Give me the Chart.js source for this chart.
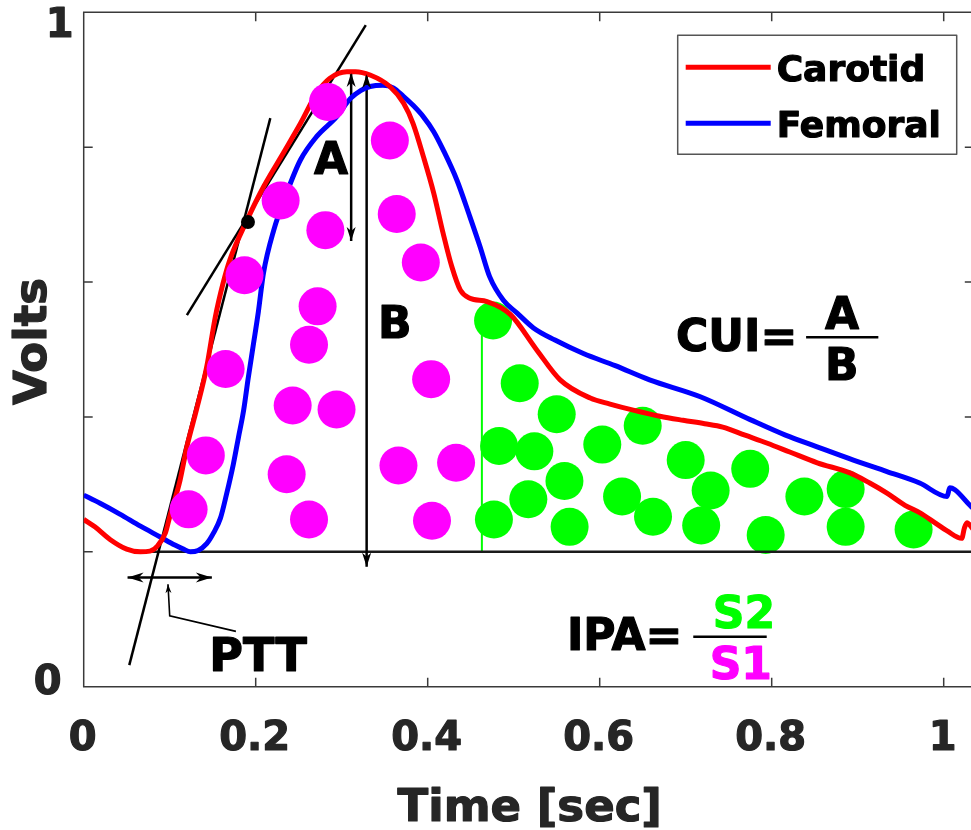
<!DOCTYPE html>
<html lang="en">
<head>
<meta charset="UTF-8">
<title>Carotid and femoral pulse waves</title>
<script src="https://cdn.jsdelivr.net/npm/chart.js"></script>
<style>
  body { margin: 0; overflow: hidden; background: #fff; }
</style>
</head>
<body>
<canvas id="pulseChart" width="980" height="830"></canvas>
<script>
// pulse waveforms (time in sec, amplitude in volts)
const carotidTime = [0, .013, .031, .050, .066, .077, .086, .095, .100, .112, .120, .131, .143, .153, .162, .170, .190, .209, .232, .252,
  .271, .286, .306, .316, .333, .356, .372, .383, .395, .407, .418, .428, .438, .449, .469, .496, .527, .554, .589, .612,
  .639, .670, .697, .722, .743, .769, .795, .821, .853, .891, .914, .934, .955, .972, .990, 1.004, 1.021, 1.024, 1.027, 1.032, 1.035];
const carotidVolts = [.248, .237, .218, .204, .200, .201, .209, .228, .252, .306, .356, .410, .474, .548, .598, .633, .692, .741, .791, .835,
  .880, .902, .912, .912, .907, .890, .865, .835, .786, .732, .672, .623, .588, .576, .571, .552, .499, .455, .428, .419,
  .410, .401, .395, .390, .385, .373, .361, .348, .332, .317, .302, .287, .269, .258, .243, .231, .220, .235, .243, .237, .232];

const femoralTime = [0, .019, .042, .066, .089, .106, .116, .124, .133, .143, .151, .159, .166, .174, .180, .186, .191, .197, .203, .209,
  .221, .236, .252, .271, .294, .310, .322, .333, .348, .360, .372, .383, .395, .407, .418, .434, .449, .461, .472, .488,
  .504, .523, .548, .581, .618, .658, .717, .775, .816, .852, .895, .934, .972, 1.004, 1.007, 1.013, 1.032, 1.035];
const femoralVolts = [.284, .272, .256, .238, .222, .210, .204, .200, .202, .212, .228, .250, .285, .330, .370, .410, .455, .505, .555, .613,
  .677, .732, .781, .816, .845, .872, .884, .890, .892, .888, .875, .862, .845, .823, .796, .751, .697, .652, .608, .573,
  .554, .532, .514, .494, .476, .455, .430, .396, .373, .356, .336, .319, .302, .282, .295, .292, .267, .264];

// area samples: S1 (systolic, magenta) and S2 (diastolic, green)
const s1Time = [.284, .356, .229, .364, .281, .392, .187, .272, .262, .165, .404, .243, .294, .142, .236, .366, .433, .122, .262, .405];
const s1Volts = [.867, .810, .721, .701, .677, .629, .610, .564, .507, .471, .456, .417, .411, .343, .315, .328, .332, .263, .248, .246];
const s2Time = [.476, .507, .550, .483, .524, .603, .650, .700, .559, .517, .626, .729, .775, .838, .886, .477, .565, .662, .718, .793, .886, .965];
const s2Volts = [.543, .450, .404, .357, .349, .359, .387, .336, .305, .278, .282, .291, .323, .282, .293, .248, .237, .252, .239, .225, .237, .233];

// construction lines
const footTangentTime = [.053, .217];
const footTangentVolts = [.032, .843];
const kneeTangentTime = [.120, .328];
const kneeTangentVolts = [.551, .981];
const inflectionTime = [.191];
const inflectionVolts = [.689];
const arrowATime = [.311, .311];
const arrowAVolts = [.910, .661];
const arrowBTime = [.329, .329];
const arrowBVolts = [.908, .178];
const baselineTime = [.066, 1.04];
const baselineVolts = [.2, .2];
const splitTime = [.463, .463];
const splitVolts = [.2, .543];
const pttTime = [.051, .149];
const pttVolts = [.162, .162];
const pttLeaderTime = [.098, .100, .177];
const pttLeaderVolts = [.152, .105, .082];

const xTicks = [0, 0.2, 0.4, 0.6, 0.8, 1];
const xTickLabels = ['0', '0.2', '0.4', '0.6', '0.8', '1'];
const yTicks = [0, 0.2, 0.4, 0.6, 0.8, 1];

const pts = (xs, ys) => xs.map((x, i) => ({ x: x, y: ys[i] }));
const FONT = '"DejaVu Sans", "Liberation Sans", sans-serif';

function line(xs, ys, color, width, extra) {
  return Object.assign({
    data: pts(xs, ys), showLine: true, borderColor: color, borderWidth: width,
    pointRadius: 0, fill: false, order: 1
  }, extra || {});
}

// text placed in data coordinates
const notes = [
  { text: 'A', x: .2876, y: .7847, size: 44, color: '#000' },
  { text: 'B', x: .3616, y: .5408, size: 44, color: '#000' },
  { text: 'PTT', x: .2027, y: .0485, size: 46, color: '#000' },
  { text: 'CUI=', x: .7593, y: .5215, size: 44, color: '#000' },
  { text: 'A', x: .8817, y: .5541, size: 44, color: '#000' },
  { text: 'B', x: .8814, y: .4785, size: 44, color: '#000' },
  { text: 'IPA=', x: .6291, y: .0781, size: 44, color: '#000' },
  { text: 'S2', x: .7678, y: .1112, size: 44, color: '#00ff00' },
  { text: 'S1', x: .7641, y: .0351, size: 44, color: '#ff00ff' }
];
const fractionBars = [
  { x0: .840, x1: .924, y: .5181 },
  { x0: .7088, x1: .7942, y: .0741 }
];

// bold text with a thin outline in the same colour, for a heavier look
function heavyText(ctx, text, x, y, color) {
  ctx.fillStyle = color;
  ctx.strokeStyle = color;
  ctx.lineWidth = 1.2;
  ctx.lineJoin = 'round';
  ctx.fillText(text, x, y);
  ctx.strokeText(text, x, y);
}

function arrowHead(ctx, tip, from, len, half) {
  const ang = Math.atan2(tip.y - from.y, tip.x - from.x);
  ctx.beginPath();
  ctx.moveTo(tip.x, tip.y);
  ctx.lineTo(tip.x - len * Math.cos(ang) + half * Math.sin(ang), tip.y - len * Math.sin(ang) - half * Math.cos(ang));
  ctx.lineTo(tip.x - len * 0.7 * Math.cos(ang), tip.y - len * 0.7 * Math.sin(ang));
  ctx.lineTo(tip.x - len * Math.cos(ang) - half * Math.sin(ang), tip.y - len * Math.sin(ang) + half * Math.cos(ang));
  ctx.closePath();
  ctx.fill();
}

const frame = {
  id: 'frame',
  beforeDatasetsDraw(chart) {
    const { ctx, chartArea: a, scales: { x, y } } = chart;
    ctx.save();
    ctx.strokeStyle = '#3a3a3a';
    ctx.lineWidth = 1.5;
    ctx.beginPath();
    ctx.moveTo(a.right, a.top);
    ctx.lineTo(a.left, a.top);
    ctx.lineTo(a.left, a.bottom);
    ctx.lineTo(a.right, a.bottom);
    xTicks.forEach(v => {
      const px = x.getPixelForValue(v);
      ctx.moveTo(px, a.bottom); ctx.lineTo(px, a.bottom - 9);
      ctx.moveTo(px, a.top); ctx.lineTo(px, a.top + 9);
    });
    yTicks.forEach(v => {
      const py = y.getPixelForValue(v);
      ctx.moveTo(a.left, py); ctx.lineTo(a.left + 9, py);
      ctx.moveTo(a.right, py); ctx.lineTo(a.right - 9, py);
    });
    ctx.stroke();

    const ink = '#262626';
    ctx.font = 'bold 40px ' + FONT;
    ctx.textAlign = 'center';
    ctx.textBaseline = 'alphabetic';
    xTicks.forEach((v, i) => heavyText(ctx, xTickLabels[i], x.getPixelForValue(v) - 1, a.bottom + 63, ink));
    heavyText(ctx, '1', a.left - 24, y.getPixelForValue(1) + 25, ink);
    heavyText(ctx, '0', a.left - 36, y.getPixelForValue(0) + 7, ink);

    ctx.font = 'bold 45px ' + FONT;
    heavyText(ctx, 'Time [sec]', (a.left + a.right) / 2 + 1, a.bottom + 134, ink);
    ctx.save();
    ctx.translate(a.left - 38, (a.top + a.bottom) / 2 - 8);
    ctx.rotate(-Math.PI / 2);
    heavyText(ctx, 'Volts', 0, 0, ink);
    ctx.restore();
    ctx.restore();
  },
  afterDatasetsDraw(chart) {
    const { ctx, chartArea: a, scales: { x, y } } = chart;
    ctx.save();
    ctx.fillStyle = '#000';
    chart.data.datasets.forEach((ds, i) => {
      if (!ds.arrowEnds) return;
      const p = chart.getDatasetMeta(i).data;
      const size = ds.arrowEnds.size;
      if (ds.arrowEnds.start) arrowHead(ctx, p[0], p[1], size[0], size[1]);
      if (ds.arrowEnds.end) arrowHead(ctx, p[p.length - 1], p[p.length - 2], size[0], size[1]);
    });

    ctx.textAlign = 'center';
    ctx.textBaseline = 'alphabetic';
    notes.forEach(n => {
      ctx.font = 'bold ' + n.size + 'px ' + FONT;
      heavyText(ctx, n.text, x.getPixelForValue(n.x), y.getPixelForValue(n.y) + n.size * 0.729 / 2, n.color);
    });
    ctx.strokeStyle = '#000';
    ctx.lineWidth = 2.5;
    fractionBars.forEach(b => {
      ctx.beginPath();
      ctx.moveTo(x.getPixelForValue(b.x0), y.getPixelForValue(b.y));
      ctx.lineTo(x.getPixelForValue(b.x1), y.getPixelForValue(b.y));
      ctx.stroke();
    });

    // legend box in the upper right corner
    const lx = a.left + 594, ly = a.top + 23, lw = 279, lh = 119;
    ctx.fillStyle = '#fff';
    ctx.fillRect(lx, ly, lw, lh);
    ctx.strokeStyle = '#555';
    ctx.lineWidth = 1.5;
    ctx.strokeRect(lx, ly, lw, lh);
    const entries = chart.data.datasets.filter(ds => ds.label);
    ctx.font = 'bold 36px ' + FONT;
    ctx.textAlign = 'left';
    entries.forEach((ds, i) => {
      const ry = ly + 32 + i * 56;
      ctx.strokeStyle = ds.borderColor;
      ctx.lineWidth = 5;
      ctx.beginPath();
      ctx.moveTo(lx + 8, ry);
      ctx.lineTo(lx + 93, ry);
      ctx.stroke();
      heavyText(ctx, ds.label, lx + 99, ry + 14, '#000');
    });
    ctx.restore();
  }
};

new Chart(document.getElementById('pulseChart').getContext('2d'), {
  type: 'scatter',
  data: {
    datasets: [
      { data: pts(s1Time, s1Volts), pointRadius: 19, pointBackgroundColor: '#ff00ff', pointBorderWidth: 0, order: 0 },
      { data: pts(inflectionTime, inflectionVolts), pointRadius: 7, pointBackgroundColor: '#000', pointBorderWidth: 0, order: 0 },
      line(carotidTime, carotidVolts, '#ff0000', 5, { label: 'Carotid', cubicInterpolationMode: 'monotone' }),
      line(femoralTime, femoralVolts, '#0000ff', 5, { label: 'Femoral', cubicInterpolationMode: 'monotone' }),
      line(footTangentTime, footTangentVolts, '#000', 2.5),
      line(kneeTangentTime, kneeTangentVolts, '#000', 2.5),
      line(arrowATime, arrowAVolts, '#000', 2.5, { arrowEnds: { start: true, end: true, size: [14, 4.5] } }),
      line(arrowBTime, arrowBVolts, '#000', 2.5, { arrowEnds: { start: true, end: true, size: [14, 4.5] } }),
      line(baselineTime, baselineVolts, '#1a1a1a', 2.5),
      line(pttTime, pttVolts, '#000', 2.5, { arrowEnds: { start: true, end: true, size: [16, 5] } }),
      line(pttLeaderTime, pttLeaderVolts, '#000', 1.6, { arrowEnds: { start: true, size: [9, 3] } }),
      line(splitTime, splitVolts, '#00ff00', 2, { order: 3 }),
      { data: pts(s2Time, s2Volts), pointRadius: 19, pointBackgroundColor: '#00ff00', pointBorderWidth: 0, order: 2 }
    ]
  },
  options: {
    responsive: false,
    animation: false,
    events: [],
    layout: { autoPadding: false, padding: { left: 83.7, top: 12.3, right: 6.2, bottom: 143.3 } },
    scales: {
      x: { type: 'linear', min: 0, max: 1.035, display: false },
      y: { type: 'linear', min: 0, max: 1, display: false }
    },
    plugins: { legend: { display: false }, tooltip: { enabled: false } }
  },
  plugins: [frame]
});
</script>
</body>
</html>
